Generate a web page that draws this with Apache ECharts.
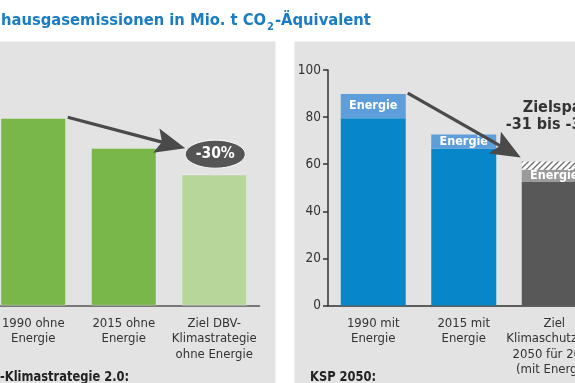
<!DOCTYPE html>
<html><head><meta charset="utf-8">
<script src="https://cdn.jsdelivr.net/npm/echarts@6/dist/echarts.min.js"></script>
<style>html,body{margin:0;padding:0;background:#fff;overflow:hidden}#c{position:absolute;left:-12px;top:0;width:620px;height:383px}</style>
</head><body><div id="c"></div>
<script>
var FONT = '"DejaVu Sans Condensed","DejaVu Sans",sans-serif';
var categoriesLeft = ['1990 ohne\nEnergie', '2015 ohne\nEnergie', 'Ziel DBV-\nKlimastrategie\nohne Energie'];
var valuesLeft = [79.5, 66.8, 55.5];
var categoriesRight = ['1990 mit\nEnergie', '2015 mit\nEnergie', 'Ziel\nKlimaschutzplan\n2050 für 2030\n(mit Energie)'];
var baseRight = [79.5, 66.7, 52.7];
var energyRight = [10.3, 5.9, 4.9];
var rangeRight = [0, 0, 3.5];
var yTicks = [0, 20, 40, 60, 80, 100];
var reductionLeft = '-30%';
var zielText = ['Zielspanne', '-31 bis -34%'];

var OFF = 12;
var hatch = document.createElement('canvas');
hatch.width = 6; hatch.height = 6;
var hc = hatch.getContext('2d');
hc.fillStyle = '#ffffff'; hc.fillRect(0,0,6,6);
hc.strokeStyle = '#6f6f6f'; hc.lineWidth = 1.3;
hc.beginPath(); hc.moveTo(0,6); hc.lineTo(6,0); hc.moveTo(-3,3); hc.lineTo(3,-3); hc.moveTo(3,9); hc.lineTo(9,3); hc.stroke();

var chart = echarts.init(document.getElementById('c'), null, {renderer:'canvas'});
var labelStyle = {color:'#333', fontSize:13, fontFamily:FONT, lineHeight:15.5, margin:10, interval:0};
chart.setOption({
  animation:false,
  grid:[
    {left:0, top:70, width:271.5, height:235.5},
    {left:328+OFF, top:70, width:271.5, height:235.5}
  ],
  xAxis:[
    {type:'category', gridIndex:0, data:categoriesLeft, axisTick:{show:false},
     axisLine:{lineStyle:{color:'#555', width:1.5}}, axisLabel:labelStyle},
    {type:'category', gridIndex:1, data:categoriesRight, axisTick:{show:false},
     axisLine:{lineStyle:{color:'#333', width:1.5}}, axisLabel:labelStyle}
  ],
  yAxis:[
    {type:'value', gridIndex:0, min:0, max:100, interval:20, show:false},
    {type:'value', gridIndex:1, min:yTicks[0], max:yTicks[yTicks.length-1], interval:20,
     splitLine:{show:false},
     axisLine:{show:true, lineStyle:{color:'#333', width:1.5}},
     axisTick:{show:true, length:5, lineStyle:{color:'#333', width:1.5}},
     axisLabel:{color:'#333', fontSize:13.5, fontFamily:FONT, margin:7}}
  ],
  series:[
    {type:'bar', xAxisIndex:0, yAxisIndex:0, barWidth:65,
     data:valuesLeft.map(function(v,i){return {value:v, itemStyle:{color: i<2 ? '#79b74b' : '#b6d69a'}};}),
     itemStyle:{borderColor:'rgba(255,255,255,0.6)', borderWidth:0.5}},
    {type:'bar', xAxisIndex:1, yAxisIndex:1, stack:'r', barWidth:65,
     data:baseRight.map(function(v,i){return {value:v, itemStyle:{color: i<2 ? '#0787c9' : '#585858'}};})},
    {type:'bar', xAxisIndex:1, yAxisIndex:1, stack:'r', barWidth:65,
     data:energyRight.map(function(v,i){return {value:v, itemStyle:{color: i<2 ? '#5d9edb' : '#9b9b9b'}};}),
     label:{show:true, position:'inside', formatter:'Energie', color:'#fff', fontSize:12.5, fontWeight:'bold', fontFamily:FONT}},
    {type:'bar', xAxisIndex:1, yAxisIndex:1, stack:'r', barWidth:65,
     data:rangeRight, itemStyle:{color:{image:hatch, repeat:'repeat'}}}
  ]
});

function px(g, cat, val){ return chart.convertToPixel({xAxisIndex:g, yAxisIndex:g}, [cat, val]); }
function arrow(p0, p1){
  var dx=p1[0]-p0[0], dy=p1[1]-p0[1], L=Math.sqrt(dx*dx+dy*dy), ux=dx/L, uy=dy/L;
  var hl=30, hw=12.5;
  var bx=p1[0]-ux*hl, by=p1[1]-uy*hl;
  var nx=p1[0]-ux*(hl-6), ny=p1[1]-uy*(hl-6);
  return [
    {type:'line', shape:{x1:p0[0], y1:p0[1], x2:nx, y2:ny}, style:{stroke:'#4a4a4a', lineWidth:3.2}, z:10},
    {type:'polygon', shape:{points:[[p1[0],p1[1]],[bx-uy*hw, by+ux*hw],[nx,ny],[bx+uy*hw, by-ux*hw]]}, style:{fill:'#4a4a4a'}, z:10}
  ];
}
var half = 32.5;
var l0 = px(0, 0, valuesLeft[0]); var l2 = px(0, 2, valuesLeft[1]);
var r0 = px(1, 0, baseRight[0]+energyRight[0]);
var r2 = px(1, 2, baseRight[2]+energyRight[2]+rangeRight[2]);
var ell = [l2[0]+1, l2[1]+6];
var rc = px(1, 2, 0);

var g = [
  {type:'rect', shape:{x:OFF, y:41.5, width:275.5, height:342}, style:{fill:'#e3e3e3'}, z:-10, silent:true},
  {type:'rect', shape:{x:294.5+OFF, y:41.5, width:320, height:342}, style:{fill:'#e3e3e3'}, z:-10, silent:true},
  {type:'text', x:1+OFF, y:21, style:{text:'{t|hausgasemissionen in Mio. t CO}{s|2}{t|-Äquivalent}',
    rich:{t:{fontSize:16.4, fontWeight:'bold', fill:'#1a7dc4', fontFamily:FONT, lineHeight:24, verticalAlign:'middle'},
          s:{fontSize:11, fontWeight:'bold', fill:'#1a7dc4', fontFamily:FONT, lineHeight:24, padding:[13,1,0,1]}},
    verticalAlign:'middle'}, z:10},
  {type:'text', x:OFF, y:377, scaleX:0.88, originX:0, originY:0, style:{text:'-Klimastrategie 2.0:', fontSize:14.5, fontWeight:'bold', fill:'#222', fontFamily:FONT, verticalAlign:'middle'}, z:10},
  {type:'text', x:310+OFF, y:377, scaleX:0.88, originX:0, originY:0, style:{text:'KSP 2050:', fontSize:14.5, fontWeight:'bold', fill:'#222', fontFamily:FONT, verticalAlign:'middle'}, z:10},
  {type:'ellipse', shape:{cx:ell[0], cy:ell[1], rx:30, ry:14}, style:{fill:'#555555', stroke:'#ffffff', lineWidth:1}, z:11},
  {type:'text', x:ell[0], y:ell[1], style:{text:reductionLeft, fontSize:15.5, fontWeight:'bold', fill:'#fff', fontFamily:FONT, align:'center', verticalAlign:'middle'}, z:12},
  {type:'text', x:rc[0]-half+1, y:108, style:{text:zielText[0], fontSize:16, fontWeight:'bold', fill:'#333', fontFamily:FONT, align:'left', verticalAlign:'middle'}, z:12},
  {type:'text', x:rc[0]-half-16, y:125, style:{text:zielText[1], fontSize:16, fontWeight:'bold', fill:'#333', fontFamily:FONT, align:'left', verticalAlign:'middle'}, z:12}
];
g = g.concat(arrow([l0[0]+half+2, l0[1]-1], [l2[0]-29, l2[1]]));
g = g.concat(arrow([r0[0]+half+2, r0[1]-1], [r2[0]-half-1, r2[1]-4]));
chart.setOption({graphic:g});
</script></body></html>
